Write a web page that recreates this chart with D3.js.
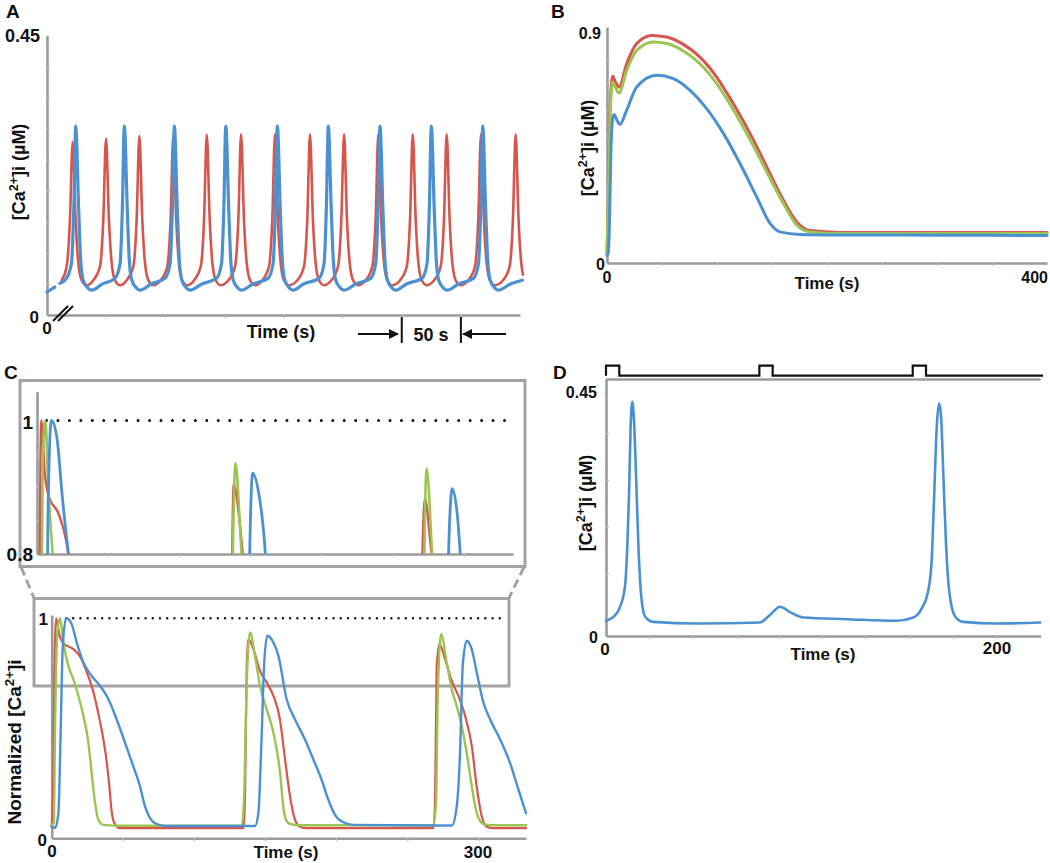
<!DOCTYPE html>
<html><head><meta charset="utf-8">
<script src="https://cdn.jsdelivr.net/npm/d3@7"></script>
<style>
body{margin:0;background:#fff;}
svg text{font-family:"Liberation Sans",Arial,sans-serif;font-weight:bold;fill:#111;}
</style></head><body>
<svg id="chart" width="1050" height="863"></svg>
<script>
// ---------------- DATA ----------------
// Panel A: [time s, Ca µM] ; null = axis break gap
const aBlue = [[0,.037],[6.5,.045],[8.5,null],[11,.051],
[16.4,.059],[20.7,.083],[22.6,.169],[24.3,.304],[26.8,.169],[28.5,.088],[30.6,.056],[34.8,.043],[37.6,.040],[47,.050],
[57.5,.059],[61.8,.083],[63.7,.169],[65.4,.304],[67.9,.169],[69.6,.088],[71.7,.056],[75.9,.043],[78.7,.040],[88,.050],
[99.8,.059],[104.1,.083],[106,.169],[107.7,.304],[110.2,.169],[111.9,.088],[114,.056],[118.2,.043],[121,.040],[131,.050],
[143.3,.059],[147.6,.083],[149.5,.169],[151.2,.304],[153.7,.169],[155.4,.088],[157.5,.056],[161.7,.043],[164.5,.040],[174,.050],
[186.9,.059],[191.2,.083],[193.1,.169],[194.8,.304],[197.3,.169],[199,.088],[201.1,.056],[205.3,.043],[208.1,.040],[217,.050],
[230,.059],[234.3,.083],[236.2,.169],[237.9,.304],[240.4,.169],[242.1,.088],[244.2,.056],[248.4,.043],[251.2,.040],[261,.050],
[273.7,.059],[278,.083],[279.9,.169],[281.6,.304],[284.1,.169],[285.8,.088],[287.9,.056],[292.1,.043],[294.9,.040],[304,.050],
[317.1,.059],[321.4,.083],[323.3,.169],[325,.304],[327.5,.169],[329.2,.088],[331.3,.056],[335.5,.043],[338.3,.040],[348,.050],
[360.6,.059],[364.9,.083],[366.8,.169],[368.5,.304],[371,.169],[372.7,.088],[374.8,.056],[379,.043],[381.8,.040],[392,.050],[402,.056]];
const aRed = [
[12.4,.056],[16.6,.078],[19.4,.153],[21.7,.279],[24.2,.153],[26.5,.083],[29.3,.056],[33.5,.048],
[39.2,.056],[44.8,.078],[47.6,.153],[49.9,.284],[52.4,.153],[54.7,.083],[57.5,.056],[61.7,.048],
[67.4,.056],[73,.078],[75.8,.153],[78.1,.288],[80.6,.153],[82.9,.083],[85.7,.056],[89.9,.048],
[96.1,.056],[101.7,.078],[104.5,.153],[106.8,.289],[109.3,.153],[111.6,.083],[114.4,.056],[118.6,.048],
[124.4,.056],[130,.078],[132.8,.153],[135.1,.29],[137.6,.153],[139.9,.083],[142.7,.056],[146.9,.048],
[153.4,.056],[159,.078],[161.8,.153],[164.1,.291],[166.6,.153],[168.9,.083],[171.7,.056],[175.9,.048],
[182.1,.056],[187.7,.078],[190.5,.153],[192.8,.291],[195.3,.153],[197.6,.083],[200.4,.056],[204.6,.048],
[211.7,.056],[217.3,.078],[220.1,.153],[222.4,.291],[224.9,.153],[227.2,.083],[230,.056],[234.2,.048],
[240.5,.056],[246.1,.078],[248.9,.153],[251.2,.291],[253.7,.153],[256,.083],[258.8,.056],[263,.048],
[269.5,.056],[275.1,.078],[277.9,.153],[280.2,.291],[282.7,.153],[285,.083],[287.8,.056],[292,.048],
[298.6,.056],[304.2,.078],[307,.153],[309.3,.291],[311.8,.153],[314.1,.083],[316.9,.056],[321.1,.048],
[327.3,.056],[332.9,.078],[335.7,.153],[338,.291],[340.5,.153],[342.8,.083],[345.6,.056],[349.8,.048],
[356.3,.056],[361.9,.078],[364.7,.153],[367,.291],[369.5,.153],[371.8,.083],[374.6,.056],[378.8,.048],
[385.6,.056],[391.2,.078],[394,.153],[396.3,.291],[398.8,.153],[401.1,.083],[402.5,.065]];

// Panel B
const bRed = [[0,.035],[1.5,.3],[3,.62],[5.1,.732],[7.5,.71],[10.9,.69],[17.9,.781],[27,.86],[40.6,.892],[54.3,.886],[69.4,.857],[84.5,.807],[99.7,.729],[114.8,.625],[130,.508],[145.2,.377],[160.3,.247],[172.4,.162],[184.5,.127],[211.8,.12],[300,.12],[400,.12]];
const bGreen = [[0,.04],[1.5,.3],[3,.6],[5.1,.709],[7.5,.69],[10.9,.666],[17.9,.755],[27,.833],[42.1,.866],[54.3,.86],[69.4,.831],[84.5,.781],[99.7,.703],[114.8,.601],[130,.484],[145.2,.357],[160.3,.234],[172.4,.149],[184.5,.122],[211.8,.116],[300,.116],[400,.116]];
const bBlue = [[0,.03],[1.2,.04],[2.2,.15],[3.5,.43],[5,.56],[6.4,.582],[9,.56],[11.8,.543],[17.9,.599],[27,.69],[45.2,.736],[60.3,.723],[75.5,.677],[90.6,.605],[105.8,.508],[120.9,.39],[136.1,.259],[148.2,.155],[157.3,.122],[175.5,.112],[211.8,.11],[300,.109],[400,.108]];

// Panel C (normalized)
const cRed = [[0,.053],[1.2,.3],[2,.8],[3,1.0],[5.5,.92],[8.5,.885],[15.2,.86],[20.5,.82],[25,.75],[29.5,.66],[33,.56],[35.5,.48],[38,.38],[40.5,.24],[42,.13],[44,.07],[48,.046],[134.8,.046],[135.9,.175],[137.1,.78],[138.3,.905],[141.8,.86],[146.5,.76],[151.2,.708],[155.9,.647],[160.5,.54],[164.1,.358],[167.6,.19],[171.1,.084],[174.6,.053],[179.3,.046],[268.4,.046],[269.6,.175],[270.7,.78],[272.6,.883],[276.6,.814],[281.3,.715],[286,.647],[290.7,.556],[295.4,.419],[298.8,.236],[302.4,.099],[305.9,.053],[310.6,.046],[333.5,.046]];
const cGreen = [[0,.061],[1.5,.07],[2.3,.48],[4,.94],[5.8,1.0],[8.2,.89],[11.7,.784],[15.2,.723],[18.8,.647],[22.3,.556],[25.8,.434],[28.1,.297],[30.5,.16],[32.8,.084],[36.3,.061],[50,.057],[133.6,.057],[135.2,.175],[137.1,.7],[139.5,.936],[142.9,.83],[146.5,.693],[151.2,.586],[155.9,.48],[160.6,.297],[162.9,.14],[165,.08],[167.6,.065],[175,.059],[268.4,.059],[270.3,.175],[271.4,.63],[273.8,.928],[277.7,.8],[281.3,.677],[284.8,.601],[288.3,.51],[291.8,.388],[295.4,.236],[298.9,.114],[303.6,.065],[310,.059],[333.5,.059]];
const cBlue = [[0,.053],[2.5,.048],[4.7,.114],[6.3,.48],[7.7,.86],[10.1,1.0],[14,.974],[17.6,.89],[22.2,.8],[28.1,.738],[34,.693],[39.9,.632],[45.7,.54],[51.6,.434],[57.4,.327],[62.1,.236],[65.6,.145],[69.2,.091],[73.8,.065],[80.9,.056],[143,.056],[145.3,.114],[147.7,.48],[149.3,.78],[151.6,.921],[155.9,.89],[159.4,.83],[165.2,.632],[171.1,.54],[178.1,.449],[184,.358],[189.8,.266],[194.5,.175],[199.2,.107],[204,.076],[212.1,.061],[277.7,.058],[281.3,.058],[284.8,.145],[287.2,.403],[289,.784],[291.8,.898],[295.3,.86],[298.9,.753],[303.6,.616],[308.3,.54],[315.3,.449],[322.3,.342],[328.2,.221],[333.5,.114]];

// Panel D
const dBlue = [[0,.028],[5.5,.042],[7.2,.054],[9.7,.091],[10.9,.165],[11.8,.263],[12.6,.386],[13.5,.432],[14.3,.399],[15.4,.294],[16.6,.165],[17.9,.079],[20,.036],[24.2,.026],[46.4,.023],[78.8,.025],[84,.039],[89.1,.054],[94.2,.044],[101,.034],[123.2,.031],[148.8,.028],[157.3,.034],[161.6,.051],[165,.085],[166.7,.14],[167.9,.251],[169.3,.386],[170.5,.429],[171.5,.405],[172.7,.294],[174.1,.165],[175.8,.079],[178.7,.036],[182.9,.026],[200,.023],[222.2,.025]];
const dStimStarts = [0, 78.5, 157];
const dStimWidth = 6.8;

// ticks / labels
const aXTicks = [50,100,150,200,250,300,350];
const aYTicks = [0.05,0.1,0.15,0.2,0.25,0.3,0.35,0.4];
const bXTicks = [50,100,150,200,250,300,350];
const bYTicks = [0.1,0.2,0.3,0.4,0.5,0.6,0.7,0.8];
const cXTicks = [50,100,150,200,250,300];
const cYTicks = [0.2,0.4,0.6,0.8];
const iYTicks = [0.85,0.9,0.95];
const dXTicks = d3.range(1,10).map(i => i*200/9);
const dYTicks = [0.116,0.202,0.288,0.374];

// ---------------- DRAW ----------------
const RED="#d6554d", GREEN="#9cc453", BLUE="#4b91d1", AX="#9b9b9b";
const svg = d3.select("#chart");
svg.append("rect").attr("width",1050).attr("height",863).attr("fill","#fff");

function styleAxis(sel){
  sel.select(".domain").attr("stroke",AX).attr("stroke-width",2.6);
  sel.selectAll(".tick line").attr("stroke","#bdbdbd").attr("stroke-width",1.2);
}
function xAxis(x, yPos, ticks){
  svg.append("g").attr("transform",`translate(0,${yPos})`)
    .call(d3.axisBottom(x).tickValues(ticks).tickSize(3).tickSizeOuter(0).tickFormat(""))
    .call(styleAxis);
}
function yAxis(y, xPos, ticks){
  svg.append("g").attr("transform",`translate(${xPos},0)`)
    .call(d3.axisRight(y).tickValues(ticks).tickSize(3).tickSizeOuter(0).tickFormat(""))
    .call(styleAxis);
}
function text(x,y,s,size,anchor){
  return svg.append("text").attr("x",x).attr("y",y).attr("font-size",size).attr("text-anchor",anchor||"middle").text(s);
}
function caLabel(x,y,size,prefix,suffix){
  const t = svg.append("text").attr("transform",`translate(${x},${y}) rotate(-90)`)
    .attr("font-size",size).attr("text-anchor","middle");
  t.append("tspan").text(prefix+"[Ca");
  t.append("tspan").attr("baseline-shift","super").attr("font-size",size*0.7).text("2+");
  t.append("tspan").text(suffix);
}
function drawLine(parent, data, x, y, color, w){
  const line = d3.line().defined(d=>d[1]!==null).x(d=>x(d[0])).y(d=>y(d[1])).curve(d3.curveMonotoneX);
  parent.append("path").datum(data).attr("d",line).attr("fill","none")
    .attr("stroke",color).attr("stroke-width",w).attr("stroke-linejoin","round").attr("stroke-linecap","round");
}

// ----- Panel A -----
const xA = d3.scaleLinear().domain([0,400]).range([47,520]);
const yA = d3.scaleLinear().domain([0,0.45]).range([315,35.5]);
yAxis(yA, 47, aYTicks);
xAxis(xA, 315, aXTicks);
drawLine(svg, aRed, xA, yA, RED, 2.6);
drawLine(svg, aBlue, xA, yA, BLUE, 3.2);
text(6,18,"A",19,"start");
text(40,42,"0.45",18,"end");
text(39,323,"0",17,"end");
text(47,334,"0",17);
svg.append("line").attr("x1",53).attr("y1",321).attr("x2",68).attr("y2",306).attr("stroke","#111").attr("stroke-width",2);
svg.append("line").attr("x1",58).attr("y1",321).attr("x2",73).attr("y2",306).attr("stroke","#111").attr("stroke-width",2);
text(281,338,"Time (s)",18);
caLabel(25,172,18,"","]i (µM)");
// scale bar
const defs = svg.append("defs");
defs.append("marker").attr("id","arr").attr("viewBox","0 0 10 10").attr("refX",9).attr("refY",5)
  .attr("markerWidth",5).attr("markerHeight",5).attr("orient","auto")
  .append("path").attr("d","M0,0L10,5L0,10z").attr("fill","#111");
svg.append("line").attr("x1",358).attr("y1",334).attr("x2",398).attr("y2",334).attr("stroke","#111").attr("stroke-width",2).attr("marker-end","url(#arr)");
svg.append("line").attr("x1",506).attr("y1",334).attr("x2",463).attr("y2",334).attr("stroke","#111").attr("stroke-width",2).attr("marker-end","url(#arr)");
svg.append("line").attr("x1",xA(300)).attr("y1",317).attr("x2",xA(300)).attr("y2",343).attr("stroke","#111").attr("stroke-width",2);
svg.append("line").attr("x1",xA(350)).attr("y1",317).attr("x2",xA(350)).attr("y2",343).attr("stroke","#111").attr("stroke-width",2);
text(431,341,"50 s",18);

// ----- Panel B -----
const xB = d3.scaleLinear().domain([0,400]).range([607,1047]);
const yB = d3.scaleLinear().domain([0,0.925]).range([263,27]);
yAxis(yB, 607, bYTicks);
xAxis(xB, 263, bXTicks);
drawLine(svg, bRed, xB, yB, RED, 3);
drawLine(svg, bGreen, xB, yB, GREEN, 3);
drawLine(svg, bBlue, xB, yB, BLUE, 3);
text(551,18,"B",19,"start");
text(601,39,"0.9",16,"end");
text(605,270,"0",16,"end");
text(607,283,"0",16);
text(1048,283,"400",16,"end");
text(827,289,"Time (s)",17);
caLabel(594,148,18,"","]i (µM)");

// ----- Panel C -----
text(4,379,"C",19,"start");
// inset box & connectors
svg.append("rect").attr("x",20).attr("y",380.5).attr("width",505).attr("height",186).attr("fill","none").attr("stroke","#a3a3a3").attr("stroke-width",3);
svg.append("rect").attr("x",34).attr("y",598.5).attr("width",475).attr("height",87.5).attr("fill","none").attr("stroke","#a3a3a3").attr("stroke-width",3);
svg.append("line").attr("x1",21).attr("y1",567).attr("x2",34).attr("y2",598).attr("stroke","#a3a3a3").attr("stroke-width",3).attr("stroke-dasharray","9 5");
svg.append("line").attr("x1",524).attr("y1",567).attr("x2",509).attr("y2",598).attr("stroke","#a3a3a3").attr("stroke-width",3).attr("stroke-dasharray","9 5");

// inset
const xI = d3.scaleLinear().domain([0,334.5]).range([37,513]);
const yI = d3.scaleLinear().domain([0.8,1.043]).range([554,391.7]);
defs.append("clipPath").attr("id","clipI").append("rect").attr("x",37).attr("y",391.7).attr("width",476).attr("height",162.3);
yAxis(yI, 37, iYTicks);
xAxis(xI, 554, cXTicks);
svg.append("line").attr("x1",46.5).attr("y1",yI(1)).attr("x2",507).attr("y2",yI(1)).attr("stroke","#111").attr("stroke-width",3).attr("stroke-linecap","round").attr("stroke-dasharray","0 11.45");
const gI = svg.append("g").attr("clip-path","url(#clipI)");
drawLine(gI, cRed, xI, yI, RED, 2.4);
drawLine(gI, cGreen, xI, yI, GREEN, 2.6);
drawLine(gI, cBlue, xI, yI, BLUE, 2.8);
text(33,429,"1",19,"end");
text(33,561,"0.8",19,"end");

// lower
const xC = d3.scaleLinear().domain([0,333.5]).range([51.7,526]);
const yC = d3.scaleLinear().domain([0,1.015]).range([838.3,615]);
yAxis(yC, 51.7, cYTicks);
xAxis(xC, 838.3, cXTicks);
svg.append("line").attr("x1",66).attr("y1",yC(1)).attr("x2",500).attr("y2",yC(1)).attr("stroke","#111").attr("stroke-width",2.4).attr("stroke-linecap","round").attr("stroke-dasharray","0 7.23");
drawLine(svg, cRed, xC, yC, RED, 2.2);
drawLine(svg, cGreen, xC, yC, GREEN, 2.4);
drawLine(svg, cBlue, xC, yC, BLUE, 2.4);
text(48,625,"1",17,"end");
text(47,846,"0",17,"end");
text(52,857,"0",17);
text(478,858,"300",17);
text(286,858,"Time (s)",17);
caLabel(21,742,19,"Normalized  ","]i");

// ----- Panel D -----
const xD = d3.scaleLinear().domain([0,222.5]).range([606,1040.7]);
const yD = d3.scaleLinear().domain([0,0.474]).range([636,379]);
// stimulus trace
let stimPts = [[606,375.7]];
dStimStarts.forEach(s => {
  const a = xD(s), b = xD(s+dStimWidth);
  if (s>0) stimPts.push([a,375.7]);
  stimPts.push([a,365.7],[b,365.7],[b,375.7]);
});
stimPts.push([1043,375.7]);
svg.append("path").attr("d",d3.line()(stimPts)).attr("fill","none").attr("stroke","#111").attr("stroke-width",2.2);
svg.append("line").attr("x1",606).attr("y1",379.5).attr("x2",1040.7).attr("y2",379.5).attr("stroke",AX).attr("stroke-width",2.4);
yAxis(yD, 606, dYTicks);
xAxis(xD, 636, dXTicks);
drawLine(svg, dBlue, xD, yD, BLUE, 2.6);
text(553,379,"D",19,"start");
text(597,398,"0.45",16,"end");
text(598,643,"0",16,"end");
text(605,655,"0",17);
text(997,654,"200",17);
text(823,660,"Time (s)",17);
caLabel(592,503,18,"","]i (µM)");
</script>
</body></html>
